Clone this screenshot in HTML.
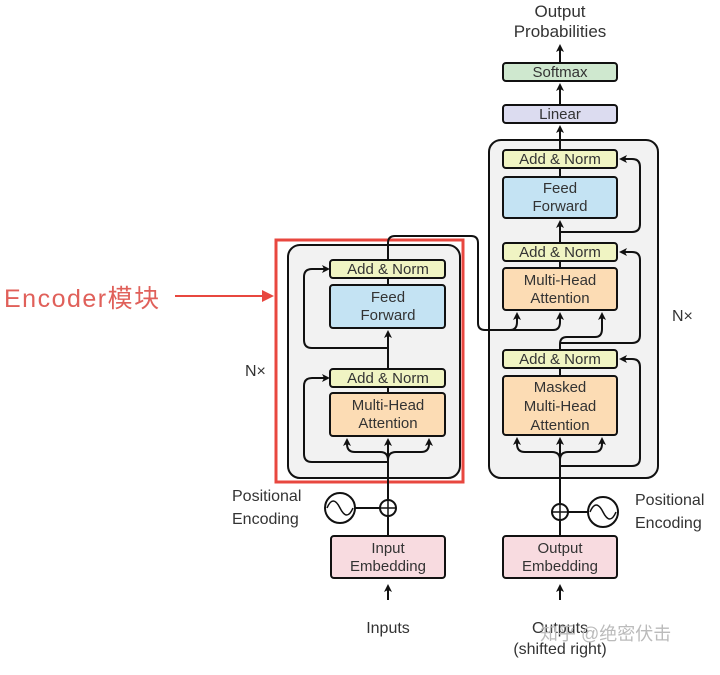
<!DOCTYPE html>
<html><head><meta charset="utf-8"><style>
body{margin:0;background:#fff;}
svg text{font-family:"Liberation Sans","Noto Sans CJK SC",sans-serif;fill:#333;}
</style></head><body>
<svg width="720" height="670" viewBox="0 0 720 670" xmlns="http://www.w3.org/2000/svg">
<defs>
<marker id="a" markerWidth="8" markerHeight="8" refX="6" refY="4" orient="auto" markerUnits="userSpaceOnUse"><path d="M0,0 L8,4 L0,8 L2,4 z" fill="#111"/></marker>
<marker id="r" markerWidth="12" markerHeight="12" refX="10" refY="6" orient="auto" markerUnits="userSpaceOnUse"><path d="M0,0 L12,6 L0,12 z" fill="#e8473f"/></marker>
</defs>
<rect x="288" y="245" width="172" height="233" rx="12" fill="#f2f2f2" stroke="#111" stroke-width="2"/>
<rect x="489" y="140" width="169" height="338" rx="12" fill="#f2f2f2" stroke="#111" stroke-width="2"/>
<rect x="276" y="240" width="187" height="242" fill="none" stroke="#e8473f" stroke-width="3"/>
<g stroke="#111" stroke-width="2" fill="none">
<line x1="388" y1="600" x2="388" y2="586" marker-end="url(#a)"/>
<line x1="388" y1="536" x2="388" y2="517"/>
<line x1="388" y1="499" x2="388" y2="440" marker-end="url(#a)"/>
<path d="M388 460 Q388 452 380 452 L355 452 Q347 452 347 444 L347 440" marker-end="url(#a)"/>
<path d="M388 460 Q388 452 396 452 L421 452 Q429 452 429 444 L429 440" marker-end="url(#a)"/>
<path d="M388 462 L312 462 Q304 462 304 454 L304 386 Q304 378 312 378 L328 378" marker-end="url(#a)"/>
<line x1="388" y1="393" x2="388" y2="387"/>
<line x1="388" y1="369" x2="388" y2="332" marker-end="url(#a)"/>
<path d="M388 348 L312 348 Q304 348 304 340 L304 277 Q304 269 312 269 L328 269" marker-end="url(#a)"/>
<line x1="388" y1="285" x2="388" y2="278"/>
<path d="M388 260 L388 243 Q388 236 395 236 L471 236 Q478 236 478 243 L478 323 Q478 330 485 330 L510 330 Q517 330 517 322 L517 314" marker-end="url(#a)"/>
<path d="M510 330 L553 330 Q560 330 560 322 L560 314" marker-end="url(#a)"/>
<line x1="355" y1="508" x2="380" y2="508"/>
<line x1="568" y1="512" x2="588" y2="512"/>
<line x1="560" y1="600" x2="560" y2="586" marker-end="url(#a)"/>
<line x1="560" y1="536" x2="560" y2="521"/>
<line x1="560" y1="503" x2="560" y2="439" marker-end="url(#a)"/>
<path d="M560 460 Q560 452 552 452 L525 452 Q517 452 517 444 L517 439" marker-end="url(#a)"/>
<path d="M560 460 Q560 452 568 452 L594 452 Q602 452 602 444 L602 439" marker-end="url(#a)"/>
<path d="M560 466 L632 466 Q640 466 640 458 L640 367 Q640 359 632 359 L621 359" marker-end="url(#a)"/>
<line x1="560" y1="376" x2="560" y2="368"/>
<path d="M560 350 L560 344 Q560 337 567 337 L595 337 Q602 337 602 329 L602 314" marker-end="url(#a)"/>
<path d="M560 343 L632 343 Q640 343 640 335 L640 260 Q640 252 632 252 L621 252" marker-end="url(#a)"/>
<line x1="560" y1="268" x2="560" y2="261"/>
<line x1="560" y1="243" x2="560" y2="222" marker-end="url(#a)"/>
<path d="M560 232 L632 232 Q640 232 640 224 L640 167 Q640 159 632 159 L621 159" marker-end="url(#a)"/>
<line x1="560" y1="177" x2="560" y2="168"/>
<line x1="560" y1="150" x2="560" y2="127" marker-end="url(#a)"/>
<line x1="560" y1="105" x2="560" y2="85" marker-end="url(#a)"/>
<line x1="560" y1="63" x2="560" y2="46" marker-end="url(#a)"/>
</g>
<g stroke="#111" stroke-width="2">
<rect x="330" y="260" width="115" height="18" rx="3" fill="#f0f4c3"/>
<rect x="330" y="285" width="115" height="43" rx="3" fill="#c4e3f3"/>
<rect x="330" y="369" width="115" height="18" rx="3" fill="#f0f4c3"/>
<rect x="330" y="393" width="115" height="43" rx="3" fill="#fcdcb4"/>
<rect x="331" y="536" width="114" height="42" rx="3" fill="#f8dbe0"/>
<rect x="503" y="150" width="114" height="18" rx="3" fill="#f0f4c3"/>
<rect x="503" y="177" width="114" height="41" rx="3" fill="#c4e3f3"/>
<rect x="503" y="243" width="114" height="18" rx="3" fill="#f0f4c3"/>
<rect x="503" y="268" width="114" height="42" rx="3" fill="#fcdcb4"/>
<rect x="503" y="350" width="114" height="18" rx="3" fill="#f0f4c3"/>
<rect x="503" y="376" width="114" height="59" rx="3" fill="#fcdcb4"/>
<rect x="503" y="536" width="114" height="42" rx="3" fill="#f8dbe0"/>
<rect x="503" y="105" width="114" height="18" rx="3" fill="#dcdcf0"/>
<rect x="503" y="63" width="114" height="18" rx="3" fill="#cfe8cf"/>
<circle cx="388" cy="508" r="8" fill="#fff"/>
<circle cx="340" cy="508" r="15" fill="#fff"/>
<circle cx="560" cy="512" r="8" fill="#fff"/>
<circle cx="603" cy="512" r="15" fill="#fff"/>
</g>
<g stroke="#111" stroke-width="1.5" fill="none">
<path d="M380 508 H396 M388 500 V516"/>
<path d="M552 512 H568 M560 504 V520"/>
<path d="M327 508 Q333 494 340 508 Q347 522 353 508"/>
<path d="M590 512 Q596 498 603 512 Q610 526 616 512"/>
</g>
<g font-size="15" text-anchor="middle">
<text x="388" y="274">Add &amp; Norm</text>
<text x="388" y="302">Feed</text><text x="388" y="320">Forward</text>
<text x="388" y="383">Add &amp; Norm</text>
<text x="388" y="410">Multi-Head</text><text x="388" y="428">Attention</text>
<text x="388" y="553">Input</text><text x="388" y="571">Embedding</text>
<text x="388" y="633" font-size="16">Inputs</text>
<text x="560" y="164">Add &amp; Norm</text>
<text x="560" y="193">Feed</text><text x="560" y="211">Forward</text>
<text x="560" y="257">Add &amp; Norm</text>
<text x="560" y="285">Multi-Head</text><text x="560" y="303">Attention</text>
<text x="560" y="364">Add &amp; Norm</text>
<text x="560" y="392">Masked</text><text x="560" y="411">Multi-Head</text><text x="560" y="430">Attention</text>
<text x="560" y="553">Output</text><text x="560" y="571">Embedding</text>
<text x="560" y="633" font-size="16">Outputs</text>
<text x="560" y="654" font-size="16">(shifted right)</text>
<text x="560" y="119">Linear</text>
<text x="560" y="77">Softmax</text>
<text x="560" y="17" font-size="17">Output</text>
<text x="560" y="37" font-size="17">Probabilities</text>
</g>
<g font-size="16">
<text x="232" y="501">Positional</text><text x="232" y="524">Encoding</text>
<text x="635" y="505">Positional</text><text x="635" y="528">Encoding</text>
<text x="245" y="376">N×</text>
<text x="672" y="321">N×</text>
</g>
<text x="4" y="307" font-size="25" style="fill:#e0605a" letter-spacing="1.5">Encoder模块</text>
<line x1="175" y1="296" x2="272" y2="296" stroke="#e8473f" stroke-width="2" marker-end="url(#r)"/>
<text x="540" y="640" font-size="18" style="fill:#bbb">知乎 @绝密伏击</text>
</svg>
</body></html>
